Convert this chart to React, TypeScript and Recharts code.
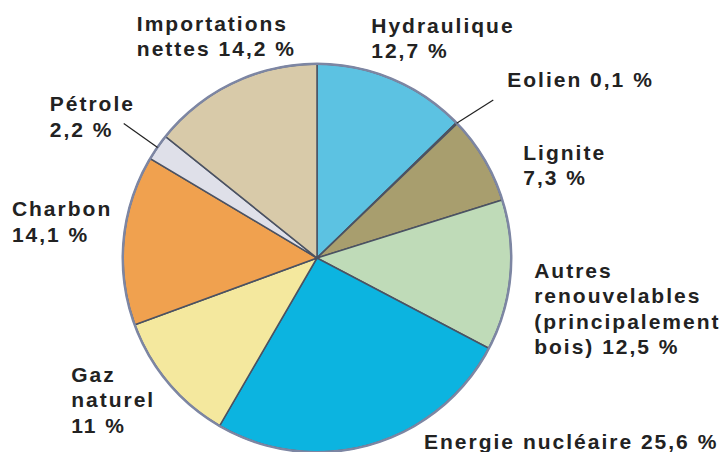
import React from "react";
import { PieChart, Pie, Cell } from "recharts";

// Consommation d'énergie primaire par source (%)
const sources = [
  "Hydraulique",
  "Eolien",
  "Lignite",
  "Autres renouvelables",
  "Energie nucléaire",
  "Gaz naturel",
  "Charbon",
  "Pétrole",
  "Importations nettes",
];
const shares = [12.7, 0.1, 7.3, 12.5, 25.6, 11, 14.1, 2.2, 14.2];
const labelTexts = [
  ["Hydraulique", "12,7 %"],
  ["Eolien 0,1 %"],
  ["Lignite", "7,3 %"],
  ["Autres", "renouvelables", "(principalement", "bois) 12,5 %"],
  ["Energie nucléaire 25,6 %"],
  ["Gaz", "naturel", "11 %"],
  ["Charbon", "14,1 %"],
  ["Pétrole", "2,2 %"],
  ["Importations", "nettes 14,2 %"],
];
const colors = [
  "#5cc2e2",
  "#6f86a8",
  "#a89e6e",
  "#bfdbb8",
  "#0cb4e0",
  "#f4e89e",
  "#f0a14f",
  "#dfe0e9",
  "#d8caa9",
];

const data = sources.map((name, i) => ({ name, value: shares[i] }));
const ring = [{ name: "bord", value: 1 }];

// label placement relative to the slice's mid point just outside the pie
const labelOffset: [number, number][] = [
  [-26, -43],
  [42, -35],
  [29, -1],
  [12, -6],
  [50, -14],
  [-88, -16],
  [-100, -30],
  [-98, -37],
  [-91, -49],
];
// leader lines (only for the thin slices)
const leaderEnd: ([number, number] | null)[] = [
  null,
  [28, -15],
  null,
  null,
  null,
  null,
  null,
  [-24, -17],
  null,
];

const RADIAN = Math.PI / 180;
const LINE_GAP = 25.5;

const renderLabel = (props: any) => {
  const { cx, cy, midAngle, outerRadius, index } = props;
  const r = outerRadius + 12;
  const px = cx + r * Math.cos(-midAngle * RADIAN);
  const py = cy + r * Math.sin(-midAngle * RADIAN);
  const [dx, dy] = labelOffset[index];
  const lead = leaderEnd[index];
  const ex = cx + outerRadius * Math.cos(-midAngle * RADIAN);
  const ey = cy + outerRadius * Math.sin(-midAngle * RADIAN);
  return (
    <g key={`lbl-${index}`}>
      {lead && (
        <line
          x1={ex}
          y1={ey}
          x2={px + lead[0]}
          y2={py + lead[1]}
          stroke="#222"
          strokeWidth={1.2}
        />
      )}
      {labelTexts[index].map((t, k) => (
        <text
          key={k}
          x={px + dx}
          y={py + dy + k * LINE_GAP}
          fill="#222"
          textAnchor="start"
          dominantBaseline="central"
          style={{
            fontFamily: "'Liberation Sans', Arial, sans-serif",
            fontSize: 21,
            fontWeight: "bold",
            letterSpacing: 2,
          }}
        >
          {t}
        </text>
      ))}
    </g>
  );
};

export default function App() {
  return (
    <div
      style={{
        position: "absolute",
        top: 0,
        left: 0,
        background: "#fff",
        width: 728,
        height: 452,
        overflow: "hidden",
      }}
    >
      <PieChart
        width={728}
        height={452}
        margin={{ top: 0, right: 0, bottom: 0, left: 0 }}
      >
        <Pie
          data={data}
          dataKey="value"
          cx={317}
          cy={258}
          outerRadius={194}
          startAngle={90}
          endAngle={-270}
          stroke="#4b5262"
          strokeWidth={1.5}
          label={renderLabel}
          labelLine={false}
          isAnimationActive={false}
        >
          {data.map((entry, index) => (
            <Cell key={`cell-${index}`} fill={colors[index]} />
          ))}
        </Pie>
        <Pie
          data={ring}
          dataKey="value"
          cx={317}
          cy={258}
          innerRadius={193}
          outerRadius={195.5}
          startAngle={90}
          endAngle={-270}
          fill="#7d86a3"
          stroke="none"
          isAnimationActive={false}
        />
      </PieChart>
    </div>
  );
}
